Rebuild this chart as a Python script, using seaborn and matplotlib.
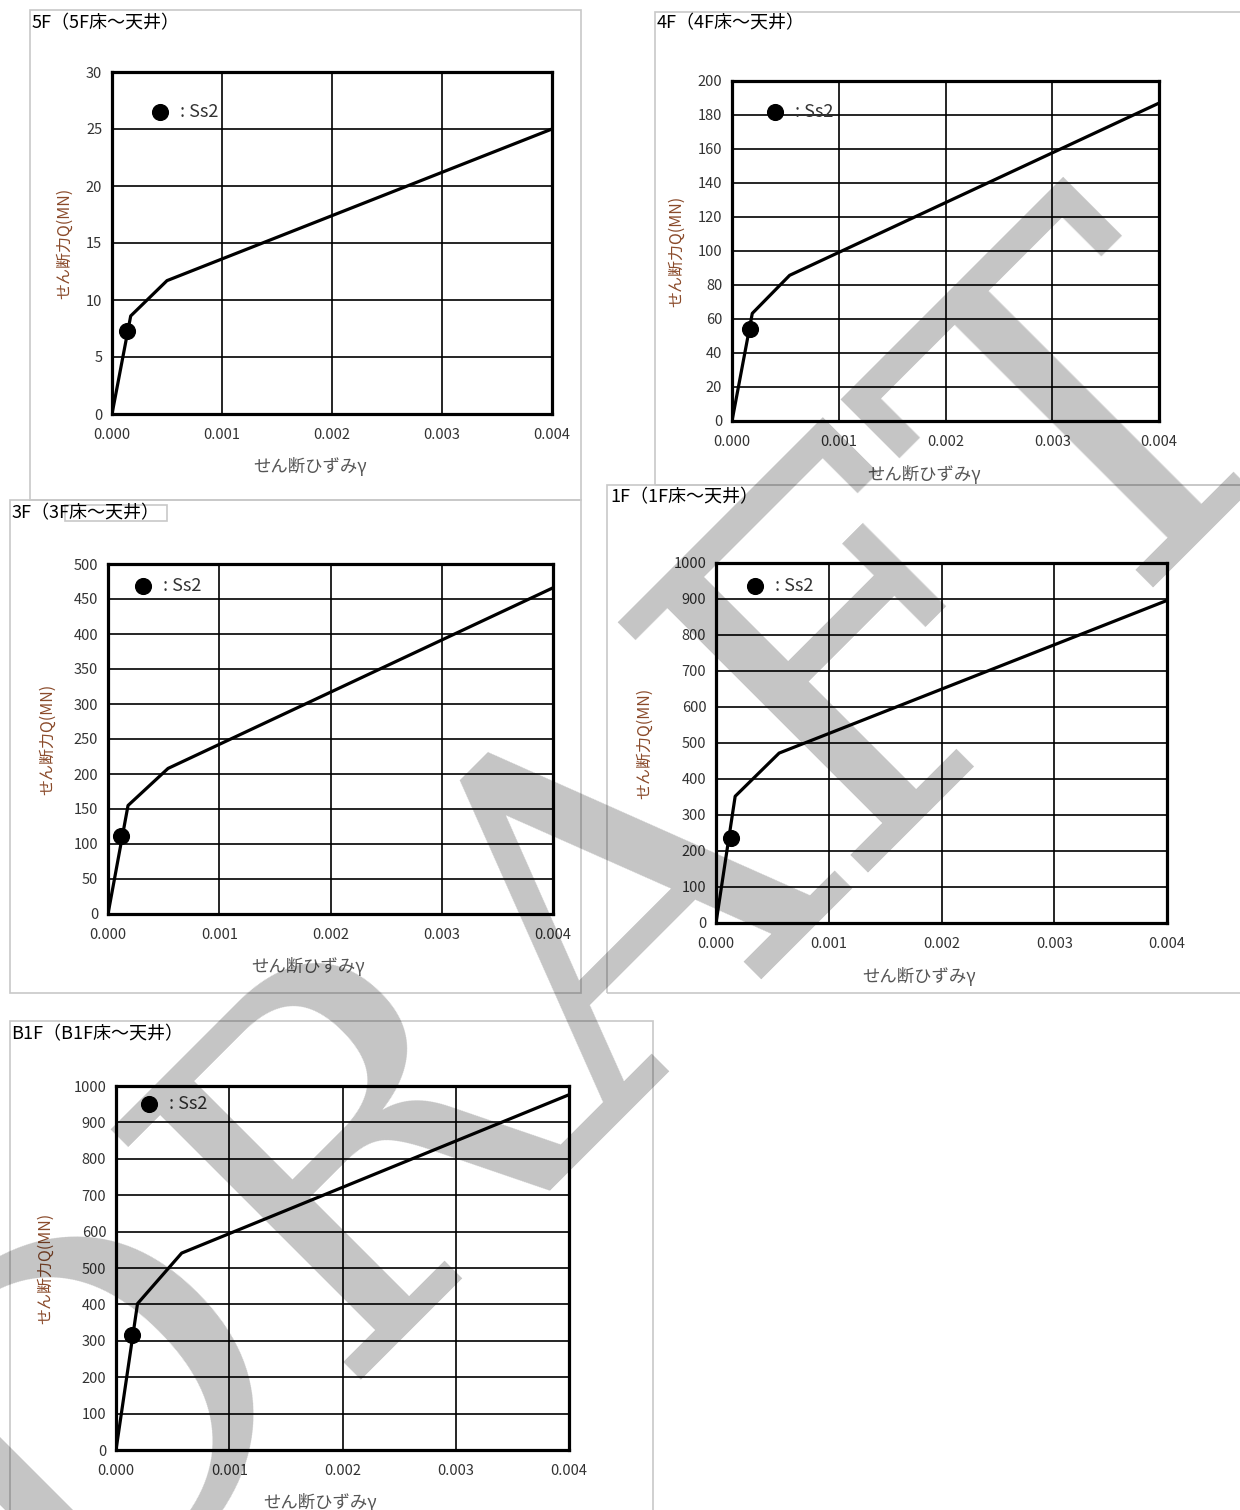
import matplotlib
matplotlib.use("Agg")
import matplotlib.pyplot as plt
from matplotlib.patches import Rectangle
import seaborn as sns
import pandas as pd

# ── DATA ─────────────────────────────────────────────────────────────────────
strain_5f = [0.0, 0.00017, 0.00050, 0.004]
shear_5f = [0.0, 8.6, 11.7, 25.0]
ss2_strain_5f = [0.00014]
ss2_shear_5f = [7.3]

strain_4f = [0.0, 0.00019, 0.00054, 0.004]
shear_4f = [0.0, 63.3, 85.7, 187.0]
ss2_strain_4f = [0.00017]
ss2_shear_4f = [54.1]

strain_3f = [0.0, 0.00018, 0.00054, 0.004]
shear_3f = [0.0, 155.0, 208.0, 466.0]
ss2_strain_3f = [0.00012]
ss2_shear_3f = [111.0]

strain_1f = [0.0, 0.00017, 0.00056, 0.004]
shear_1f = [0.0, 352.0, 472.0, 896.0]
ss2_strain_1f = [0.00013]
ss2_shear_1f = [236.0]

strain_b1f = [0.0, 0.00019, 0.00058, 0.004]
shear_b1f = [0.0, 402.0, 541.0, 976.0]
ss2_strain_b1f = [0.00014]
ss2_shear_b1f = [317.0]

titles = ["5F（5F床～天井）", "4F（4F床～天井）", "3F（3F床～天井）",
          "1F（1F床～天井）", "B1F（B1F床～天井）"]
y_max = [30, 200, 500, 1000, 1000]
y_step = [5, 20, 50, 100, 100]
x_ticks = [0.000, 0.001, 0.002, 0.003, 0.004]

curves = [(strain_5f, shear_5f), (strain_4f, shear_4f), (strain_3f, shear_3f),
          (strain_1f, shear_1f), (strain_b1f, shear_b1f)]
points = [(ss2_strain_5f, ss2_shear_5f), (ss2_strain_4f, ss2_shear_4f),
          (ss2_strain_3f, ss2_shear_3f), (ss2_strain_1f, ss2_shear_1f),
          (ss2_strain_b1f, ss2_shear_b1f)]

# ── LAYOUT (pixel boxes on the 1240x1510 page) ───────────────────────────────
W, H = 1240, 1510
axes_px = [(112, 72, 552, 414), (732, 81, 1159, 421), (108, 564, 553, 914),
           (716, 563, 1167, 923), (116, 1086, 569, 1450)]
frames_px = [(30, 10, 581, 500), (655, 12, 1245, 485), (10, 500, 581, 993),
             (607, 485, 1245, 993), (10, 1021, 653, 1515),
             (65, 505, 167, 521)]   # stray box round the 3F title in the scan
title_px = [(32, 23), (657, 23), (12, 513), (610, 497), (11, 1034)]
ylab_off = [47, 55, 60, 71, 70]
legend_pos = [(0.109, 0.883), (0.101, 0.909), (0.079, 0.937),
              (0.086, 0.936), (0.073, 0.951)]

sns.set_theme(style="white")
plt.rcParams["font.family"] = ["Noto Sans CJK JP", "DejaVu Sans"]

fig = plt.figure(figsize=(W / 100, H / 100), dpi=100)
fig.patch.set_facecolor("white")

for x0, y0, x1, y1 in frames_px:
    fig.add_artist(Rectangle((x0 / W, 1 - y1 / H), (x1 - x0) / W, (y1 - y0) / H,
                             transform=fig.transFigure, fill=False,
                             edgecolor="#c8c8c8", lw=1.2, zorder=-1))

for i in range(5):
    x0, y0, x1, y1 = axes_px[i]
    wpx, hpx = x1 - x0, y1 - y0
    ax = fig.add_axes([x0 / W, 1 - y1 / H, wpx / W, hpx / H])
    ax.set_facecolor("none")

    df = pd.DataFrame({"gamma": curves[i][0], "Q": curves[i][1]})
    sns.lineplot(data=df, x="gamma", y="Q", ax=ax, color="black", lw=2.3,
                 sort=False, zorder=3)
    pts = pd.DataFrame({"gamma": points[i][0], "Q": points[i][1]})
    sns.scatterplot(data=pts, x="gamma", y="Q", ax=ax, color="black", s=130,
                    edgecolor="black", zorder=4, label=": Ss2")

    ax.set_xlim(0, 0.004)
    ax.set_ylim(0, y_max[i])
    ax.set_xticks(x_ticks)
    ax.set_xticklabels([f"{t:.3f}" for t in x_ticks])
    ax.set_yticks(range(0, y_max[i] + 1, y_step[i]))
    ax.tick_params(length=0, labelsize=10.5, colors="#333333")
    ax.tick_params(axis="x", pad=10)
    ax.tick_params(axis="y", pad=7)
    ax.grid(True, color="black", lw=1.2)
    for sp in ax.spines.values():
        sp.set_color("black")
        sp.set_linewidth(2.3)

    ax.set_xlabel("せん断ひずみγ", fontsize=12.5, color="#555555", va="center")
    ax.xaxis.set_label_coords(0.45, -53 / hpx)
    ax.set_ylabel("せん断力Q(MN)", fontsize=11.5, color="#8a4a2a", va="center")
    ax.yaxis.set_label_coords(-ylab_off[i] / wpx, 0.5)

    lx, ly = legend_pos[i]
    ax.legend(loc="center left", bbox_to_anchor=(lx - 9 / wpx, ly),
              frameon=False, handlelength=1.0, handletextpad=0.6,
              borderpad=0, borderaxespad=0, fontsize=13,
              labelcolor="#333333")

    tx, ty = title_px[i]
    fig.text(tx / W, 1 - ty / H, titles[i], fontsize=13, ha="left",
             va="center", color="black")

# DRAFT watermark, anchored at the centre of its baseline
fig.text(684 / W, 1 - 1030 / H, "DRAFT", fontsize=350, family="DejaVu Serif",
         color="black", alpha=0.23, rotation=45, rotation_mode="anchor",
         ha="center", va="baseline", zorder=10)

fig.savefig("out.png", dpi=100)
